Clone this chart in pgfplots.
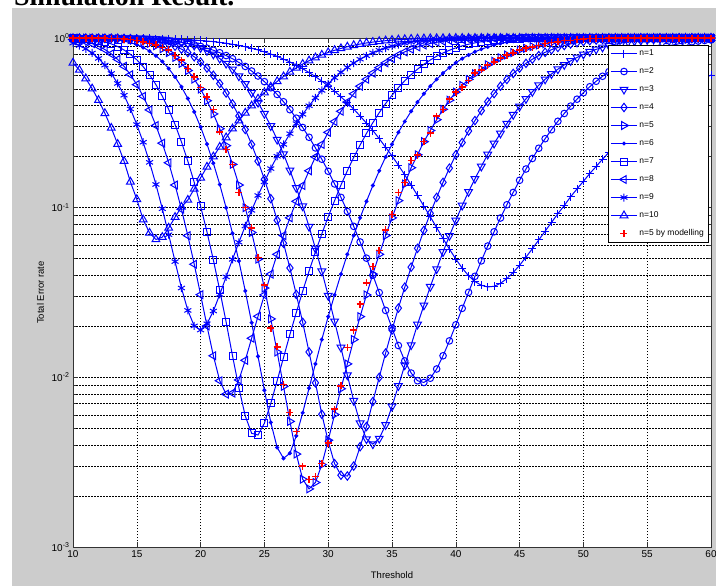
\documentclass[border=0pt]{standalone}
\usepackage{fontspec}
\setmainfont{Liberation Sans}
\newfontfamily\serifhead{Liberation Serif}
\usepackage{pgfplots}
\usepackage{pgfplotstable}
\pgfplotsset{compat=1.18}
\definecolor{figgray}{RGB}{204,204,204}
\definecolor{mblue}{RGB}{0,0,255}

\pgfplotstableread{
x n1 n2 n3 n4 n5 n6 n7 n8 n9 n10 m5
10 1 1 1 1 1 0.999 0.995 0.979 0.933 0.714 1
10.5 1 0.9998 1 0.9999 0.9998 0.999 0.992 0.967 0.903 0.648 1
11 1 0.9994 1 0.9998 0.9995 0.998 0.986 0.950 0.864 0.577 1
11.5 1 0.999 0.9999 0.9996 0.999 0.996 0.977 0.927 0.816 0.503 0.999
12 0.9999 0.9987 0.9998 0.9993 0.998 0.994 0.965 0.895 0.758 0.430 0.998
12.5 0.9998 0.998 0.9997 0.9989 0.997 0.989 0.947 0.855 0.692 0.360 0.997
13 0.9996 0.997 0.9995 0.998 0.995 0.983 0.923 0.806 0.618 0.295 0.995
13.5 0.9992 0.996 0.999 0.997 0.991 0.973 0.891 0.748 0.540 0.237 0.991
14 0.998 0.995 0.9985 0.995 0.986 0.959 0.850 0.681 0.460 0.188 0.986
14.5 0.998 0.993 0.998 0.992 0.978 0.939 0.801 0.608 0.382 0.142 0.978
15 0.997 0.991 0.996 0.987 0.967 0.913 0.744 0.531 0.309 0.112 0.967
15.5 0.996 0.988 0.994 0.981 0.950 0.879 0.678 0.453 0.243 0.085 0.950
16 0.995 0.983 0.991 0.971 0.929 0.837 0.606 0.377 0.185 0.071 0.93
16.5 0.993 0.978 0.987 0.959 0.900 0.786 0.531 0.305 0.137 0.065 0.91
17 0.991 0.972 0.980 0.942 0.864 0.727 0.454 0.240 0.0985 0.067 0.88
17.5 0.989 0.964 0.972 0.921 0.820 0.661 0.379 0.184 0.0693 0.076 0.85
18 0.986 0.955 0.961 0.894 0.768 0.589 0.309 0.136 0.0481 0.088 0.79
18.5 0.982 0.943 0.946 0.860 0.709 0.515 0.244 0.0979 0.0336 0.101 0.74
19 0.978 0.929 0.927 0.821 0.643 0.440 0.188 0.0684 0.0248 0.111 0.66
19.5 0.973 0.912 0.904 0.775 0.573 0.367 0.141 0.0464 0.0201 0.129 0.59
20 0.967 0.893 0.875 0.722 0.500 0.299 0.102 0.0307 0.0190 0.150 0.51
20.5 0.960 0.871 0.841 0.665 0.427 0.237 0.0720 0.0201 0.0207 0.174 0.45
21 0.952 0.847 0.802 0.603 0.357 0.183 0.0492 0.0134 0.0246 0.200 0.38
21.5 0.942 0.819 0.757 0.539 0.292 0.137 0.0326 0.00955 0.0308 0.228 0.28
22 0.931 0.788 0.707 0.474 0.232 0.0998 0.0212 0.00796 0.0391 0.259 0.22
22.5 0.918 0.755 0.653 0.409 0.180 0.0705 0.0134 0.00808 0.0496 0.292 0.18
23 0.904 0.718 0.596 0.347 0.136 0.0485 0.00867 0.00965 0.0625 0.326 0.123
23.5 0.888 0.680 0.536 0.289 0.0999 0.0323 0.00592 0.0126 0.0780 0.362 0.10
24 0.870 0.639 0.476 0.236 0.0714 0.0210 0.00468 0.0170 0.0964 0.399 0.076
24.5 0.850 0.597 0.416 0.188 0.0497 0.0133 0.00457 0.0229 0.118 0.438 0.051
25 0.828 0.553 0.358 0.147 0.0336 0.00839 0.00537 0.0306 0.142 0.477 0.035
25.5 0.804 0.509 0.303 0.113 0.0221 0.00542 0.00702 0.0406 0.170 0.516 0.0195
26 0.779 0.465 0.252 0.0843 0.0141 0.00386 0.00956 0.0531 0.201 0.555 0.0151
26.5 0.751 0.421 0.207 0.0617 0.00884 0.00333 0.0131 0.0685 0.236 0.593 0.0091
27 0.722 0.378 0.166 0.0441 0.00550 0.00357 0.0179 0.0871 0.273 0.631 0.0062
27.5 0.692 0.337 0.131 0.0308 0.00353 0.00452 0.0241 0.109 0.313 0.667 0.0048
28 0.659 0.297 0.102 0.0211 0.00251 0.00618 0.0322 0.135 0.355 0.702 0.0030
28.5 0.626 0.260 0.0773 0.0141 0.00220 0.00864 0.0423 0.165 0.399 0.735 0.0025
29 0.592 0.225 0.0576 0.00928 0.00240 0.0120 0.0548 0.199 0.444 0.766 0.0026
29.5 0.557 0.193 0.0422 0.00606 0.00306 0.0167 0.0701 0.236 0.491 0.795 0.0031
30 0.521 0.164 0.0303 0.0042 0.00426 0.0228 0.0885 0.278 0.537 0.822 0.0041
30.5 0.486 0.138 0.0214 0.0031 0.00604 0.0306 0.110 0.322 0.583 0.846 0.0065
31 0.450 0.115 0.0150 0.00265 0.00857 0.0406 0.136 0.370 0.628 0.868 0.0089
31.5 0.415 0.0950 0.0103 0.00262 0.0120 0.0531 0.165 0.419 0.671 0.888 0.015
32 0.381 0.0776 0.00728 0.0030 0.0167 0.0685 0.198 0.469 0.712 0.906 0.019
32.5 0.347 0.0628 0.00537 0.0039 0.0228 0.0871 0.234 0.520 0.750 0.921 0.027
33 0.315 0.0504 0.00433 0.00513 0.0306 0.109 0.274 0.571 0.786 0.935 0.036
33.5 0.285 0.0400 0.00404 0.00720 0.0406 0.135 0.317 0.621 0.818 0.946 0.045
34 0.255 0.0316 0.00436 0.0100 0.0531 0.165 0.363 0.669 0.847 0.956 0.056
34.5 0.227 0.0248 0.00525 0.0139 0.0685 0.199 0.411 0.714 0.873 0.964 0.074
35 0.202 0.0195 0.00674 0.0190 0.0871 0.236 0.460 0.756 0.895 0.971 0.091
35.5 0.178 0.0154 0.0089 0.0256 0.110 0.278 0.510 0.794 0.915 0.977 0.123
36 0.156 0.0125 0.0118 0.0340 0.138 0.322 0.560 0.829 0.932 0.982 0.141
36.5 0.136 0.0106 0.0155 0.0446 0.172 0.370 0.608 0.859 0.946 0.986 0.19
37 0.118 0.00955 0.0205 0.0576 0.205 0.419 0.655 0.886 0.957 0.989 0.204
37.5 0.102 0.00933 0.0266 0.0735 0.245 0.469 0.700 0.909 0.967 0.992 0.245
38 0.0884 0.00988 0.0342 0.0926 0.285 0.520 0.742 0.928 0.975 0.994 0.275
38.5 0.0763 0.0112 0.0435 0.115 0.330 0.571 0.781 0.944 0.981 0.995 0.347
39 0.0658 0.0134 0.0548 0.141 0.380 0.621 0.816 0.957 0.986 0.996 0.38
39.5 0.0570 0.0164 0.0683 0.171 0.430 0.669 0.847 0.968 0.989 0.997 0.436
40 0.0498 0.0204 0.0841 0.205 0.480 0.714 0.875 0.976 0.992 0.998 0.479
40.5 0.0441 0.0255 0.103 0.242 0.525 0.756 0.899 0.982 0.994 0.9986 0.513
41 0.0397 0.0317 0.124 0.283 0.570 0.794 0.919 0.987 0.996 0.999 0.562
41.5 0.0367 0.0394 0.148 0.326 0.615 0.829 0.936 0.991 0.997 0.9993 0.622
42 0.0349 0.0486 0.175 0.373 0.655 0.859 0.951 0.994 0.998 0.9995 0.649
42.5 0.0341 0.0594 0.206 0.421 0.695 0.886 0.962 0.996 0.9987 1 0.693
43 0.0344 0.0721 0.239 0.470 0.730 0.909 0.971 0.997 0.9991 1 0.723
43.5 0.0358 0.0869 0.274 0.520 0.765 0.928 0.979 0.998 0.9994 1 0.762
44 0.0382 0.104 0.313 0.570 0.795 0.944 0.984 0.9987 1 1 0.794
44.5 0.0415 0.123 0.353 0.618 0.820 0.957 0.989 0.9991 1 1 0.817
45 0.0458 0.145 0.395 0.665 0.850 0.968 0.992 0.9994 1 1 0.851
45.5 0.0511 0.169 0.438 0.709 0.870 0.976 0.994 1 1 1 0.873
46 0.0573 0.195 0.482 0.750 0.890 0.982 0.996 1 1 1 0.885
46.5 0.0645 0.224 0.527 0.788 0.910 0.987 0.997 1 1 1 0.905
47 0.0727 0.255 0.571 0.823 0.925 0.991 0.998 1 1 1 0.93
47.5 0.0819 0.288 0.614 0.853 0.940 0.994 0.999 1 1 1 0.94
48 0.0921 0.323 0.655 0.880 0.952 0.996 0.999 1 1 1 0.95
48.5 0.103 0.359 0.695 0.903 0.962 0.997 1 1 1 1 0.965
49 0.116 0.397 0.733 0.923 0.970 0.998 1 1 1 1 0.97
49.5 0.129 0.436 0.768 0.939 0.977 0.9987 1 1 1 1 0.98
50 0.143 0.476 0.801 0.953 0.983 0.9991 1 1 1 1 0.985
50.5 0.159 0.516 0.830 0.964 0.987 0.9994 1 1 1 1 0.99
51 0.175 0.556 0.857 0.973 0.990 1 1 1 1 1 0.993
51.5 0.193 0.595 0.881 0.980 0.993 1 1 1 1 1 0.996
52 0.212 0.633 0.901 0.985 0.995 1 1 1 1 1 0.998
52.5 0.232 0.670 0.919 0.989 0.996 1 1 1 1 1 1
53 0.252 0.705 0.935 0.992 0.997 1 1 1 1 1 1
53.5 0.274 0.739 0.948 0.995 0.998 1 1 1 1 1 1
54 0.297 0.770 0.959 0.996 0.999 1 1 1 1 1 1
54.5 0.320 0.800 0.967 0.997 1 1 1 1 1 1 1
55 0.345 0.826 0.975 0.998 1 1 1 1 1 1 1
55.5 0.370 0.851 0.981 0.999 1 1 1 1 1 1 1
56 0.395 0.873 0.985 0.999 1 1 1 1 1 1 1
56.5 0.421 0.893 0.989 1 1 1 1 1 1 1 1
57 0.447 0.910 0.992 1 1 1 1 1 1 1 1
57.5 0.473 0.925 0.994 1 1 1 1 1 1 1 1
58 0.500 0.938 0.996 1 1 1 1 1 1 1 1
58.5 0.527 0.950 0.997 1 1 1 1 1 1 1 1
59 0.553 0.959 0.998 1 1 1 1 1 1 1 1
59.5 0.579 0.967 0.998 1 1 1 1 1 1 1 1
60 0.605 0.974 0.999 1 1 1 1 1 1 1 1
}\datatab

\begin{document}
\begin{tikzpicture}
\useasboundingbox (0bp,0bp) rectangle (716bp,586bp);
\fill[white] (0bp,0bp) rectangle (716bp,586bp);
\fill[figgray] (12bp,0bp) rectangle (716bp,578bp);
\begin{scope}
\clip (0bp,578bp) rectangle (716bp,586bp);
\node[anchor=base west, inner sep=0pt, font=\serifhead\bfseries\fontsize{28}{30}\selectfont] at (14bp,580bp) {Simulation Result.};
\end{scope}
\begin{axis}[
  at={(73bp,39bp)}, anchor=south west,
  scale only axis, width=638bp, height=509bp,
  xmin=10, xmax=60, ymode=log, ymin=1e-3, ymax=1,
  xtick={10,15,20,25,30,35,40,45,50,55,60},
  xticklabels={10,15,20,25,30,35,40,45,50,55,60},
  ytick={1e-3,1e-2,1e-1,1},
  yticklabels={10\textsuperscript{-3},10\textsuperscript{-2},10\textsuperscript{-1},10\textsuperscript{0}},
  minor ytick={2e-3,3e-3,4e-3,5e-3,6e-3,7e-3,8e-3,9e-3,2e-2,3e-2,4e-2,5e-2,6e-2,7e-2,8e-2,9e-2,0.2,0.3,0.4,0.5,0.6,0.7,0.8,0.9},
  grid=both,
  major grid style={black, line width=0.5bp, dash pattern=on 1.5bp off 1.5bp},
  minor grid style={black, line width=0.5bp, dash pattern=on 1.5bp off 1.5bp},
  tick align=inside,
  major tick length=5bp, minor tick length=3bp,
  axis line style={black!80, line width=0.8bp},
  tick style={black!80, line width=0.5bp},
  axis background/.style={fill=white},
  tick label style={font=\fontsize{10}{11}\selectfont},
  xlabel={Threshold}, ylabel={Total Error rate},
  label style={font=\fontsize{9.5}{10}\selectfont},
  xlabel style={at={(axis description cs:0.5,-0.042)}, anchor=north},
  ylabel style={at={(axis description cs:-0.04,0.5)}, anchor=south},
  clip=false,
  every axis plot/.append style={line width=1bp},
  legend style={at={(1,1)}, anchor=north east, xshift=-3bp, yshift=-7bp,
    font=\fontsize{8.5}{9}\selectfont, draw=black, line width=0.5bp, fill=white,
    inner xsep=2bp, inner ysep=2bp, row sep=5.5bp,
    nodes={text height=6.5bp, text depth=2bp, inner sep=2bp}},
  legend cell align=left,
  legend image code/.code={\draw[mark repeat=2,mark phase=2,#1] plot coordinates {(0bp,0bp) (13bp,0bp) (26bp,0bp)};},
]
\addplot[mblue, mark=+, mark size=4bp] table[x=x,y=n1]{\datatab};
\addlegendentry{n=1}
\addplot[mblue, mark=o, mark size=3.3bp] table[x=x,y=n2]{\datatab};
\addlegendentry{n=2}
\addplot[mblue, mark=triangle, mark size=4.5bp, mark options={rotate=180}] table[x=x,y=n3]{\datatab};
\addlegendentry{n=3}
\addplot[mblue, mark=diamond, mark size=4.2bp] table[x=x,y=n4]{\datatab};
\addlegendentry{n=4}
\addplot[mblue, mark=triangle, mark size=4.5bp, mark options={rotate=-90}] table[x=x,y=n5]{\datatab};
\addlegendentry{n=5}
\addplot[mblue, mark=*, mark size=1.5bp] table[x=x,y=n6]{\datatab};
\addlegendentry{n=6}
\addplot[mblue, mark=square, mark size=3.5bp] table[x=x,y=n7]{\datatab};
\addlegendentry{n=7}
\addplot[mblue, mark=triangle, mark size=4.5bp, mark options={rotate=90}] table[x=x,y=n8]{\datatab};
\addlegendentry{n=8}
\addplot[mblue, mark=asterisk, mark size=4bp] table[x=x,y=n9]{\datatab};
\addlegendentry{n=9}
\addplot[mblue, mark=triangle, mark size=4.5bp] table[x=x,y=n10]{\datatab};
\addlegendentry{n=10}
\addplot[red, only marks, mark=+, mark size=3.5bp, line width=1.5bp] table[x=x,y=m5]{\datatab};
\addlegendentry{n=5 by modelling}
\end{axis}
\end{tikzpicture}
\end{document}
